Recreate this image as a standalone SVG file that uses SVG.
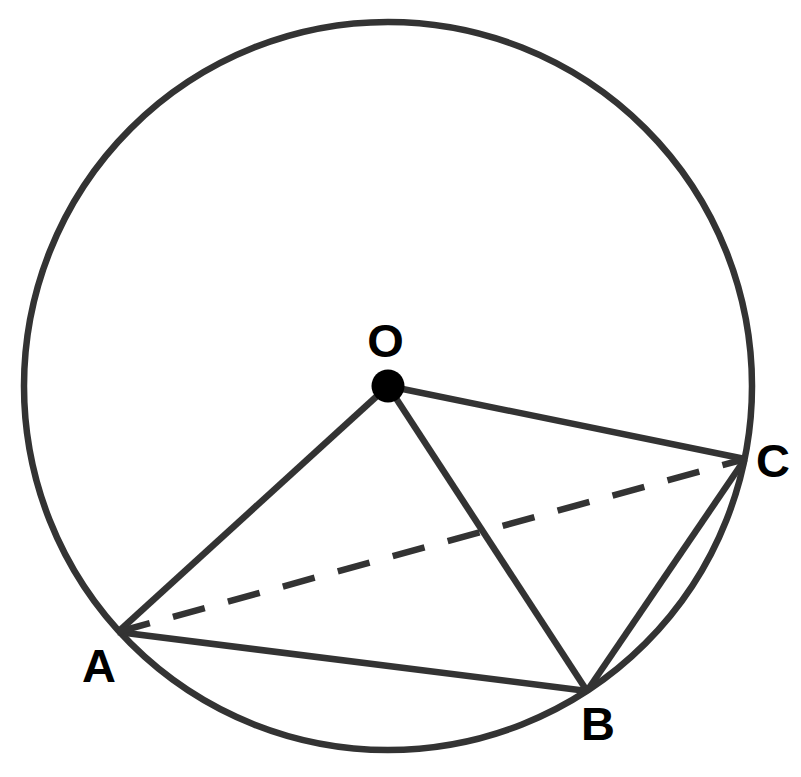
<svg xmlns="http://www.w3.org/2000/svg" width="801" height="777" viewBox="0 0 801 777">
<style>
.ln{stroke:#333;stroke-width:6.5;fill:none;stroke-linecap:butt}
.dash{stroke-dasharray:33 24}
.lbl{font-family:"Liberation Sans",Arial,sans-serif;font-weight:bold;font-size:47px;fill:#000;text-anchor:middle}
</style>
<rect width="801" height="777" fill="#fff"/>
<g id="circle"><circle class="ln" cx="388" cy="386" r="364"/></g>
<g id="connectors">
<line class="ln" x1="388" y1="386" x2="118" y2="632"/>
<line class="ln" x1="388" y1="386" x2="587" y2="691"/>
<line class="ln" x1="388" y1="386" x2="745" y2="459"/>
<line class="ln" x1="118" y1="632" x2="587" y2="691"/>
<line class="ln" x1="587" y1="691" x2="745" y2="459"/>
<line class="ln dash" x1="118" y1="632" x2="745" y2="459"/>
</g>
<g id="O"><circle cx="388" cy="386" r="16.5" fill="#000"/><text class="lbl" x="385.5" y="357">O</text></g>
<g id="A"><text class="lbl" x="99" y="682">A</text></g>
<g id="B"><text class="lbl" x="598" y="740">B</text></g>
<g id="C"><text class="lbl" x="773" y="477">C</text></g>
</svg>
